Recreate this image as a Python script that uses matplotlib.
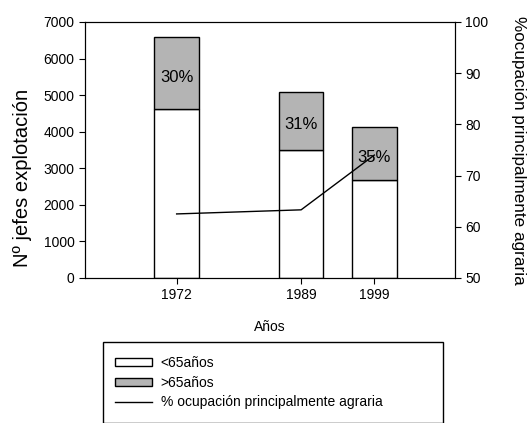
import numpy as np
import matplotlib.pyplot as plt
from matplotlib.patches import Patch, Rectangle
from matplotlib.lines import Line2D

plt.rcParams['font.family'] = ['Liberation Sans', 'DejaVu Sans']

years = [1972, 1989, 1999]
menores = [4620, 3510, 2680]      # <65 años
mayores = [1980, 1570, 1440]      # >65 años
etiquetas = ['30%', '31%', '35%']
ocupacion = [62.5, 63.3, 74.0]    # % ocupación principalmente agraria

gris = '#b4b4b4'

fig = plt.figure(figsize=(5.32, 4.23), dpi=100)
ax = fig.add_axes([0.160, 0.343, 0.695, 0.605])

ax.bar(years, menores, width=6.1, color='white', edgecolor='black', linewidth=1)
ax.bar(years, mayores, width=6.1, bottom=menores, color=gris, edgecolor='black', linewidth=1)
for x, b, h, t in zip(years, menores, mayores, etiquetas):
    ax.text(x, b + h * 0.43, t, ha='center', va='center', fontsize=12)

ax.set_xlim(1959.5, 2010)
ax.set_ylim(0, 7000)
ax.set_yticks(np.arange(0, 7001, 1000))
ax.set_xticks(years)
ax.set_ylabel('Nº jefes explotación', fontsize=14.5)
ax.yaxis.set_label_coords(-0.145, 0.39)
ax.set_xlabel('Años', fontsize=10, labelpad=13)
ax.tick_params(direction='out', length=4, labelsize=10)

ax2 = ax.twinx()
ax2.plot(years, ocupacion, color='black', linewidth=1)
ax2.set_ylim(50, 100)
ax2.set_yticks(np.arange(50, 101, 10))
ax2.tick_params(direction='out', length=4, labelsize=10)
ax2.set_ylabel('%ocupación principalmente agraria', fontsize=12.3, rotation=-90, labelpad=27)

handles = [Patch(facecolor='white', edgecolor='black', linewidth=1),
           Patch(facecolor=gris, edgecolor='black', linewidth=1),
           Line2D([], [], color='black', linewidth=1)]
labels = ['<65años', '>65años', '% ocupación principalmente agraria']
fig.patches.append(Rectangle((103 / 532, 0.0), 340 / 532, 1 - 342 / 423,
                             transform=fig.transFigure, fill=False,
                             edgecolor='black', linewidth=1))
fig.legend(handles, labels, loc='upper left', bbox_to_anchor=(105 / 532, 1 - 346 / 423),
           frameon=False, fontsize=10, handlelength=2.7, handleheight=0.5,
           handletextpad=0.6, labelspacing=0.42, borderpad=0.2)

fig.savefig('out.png', dpi=100)
